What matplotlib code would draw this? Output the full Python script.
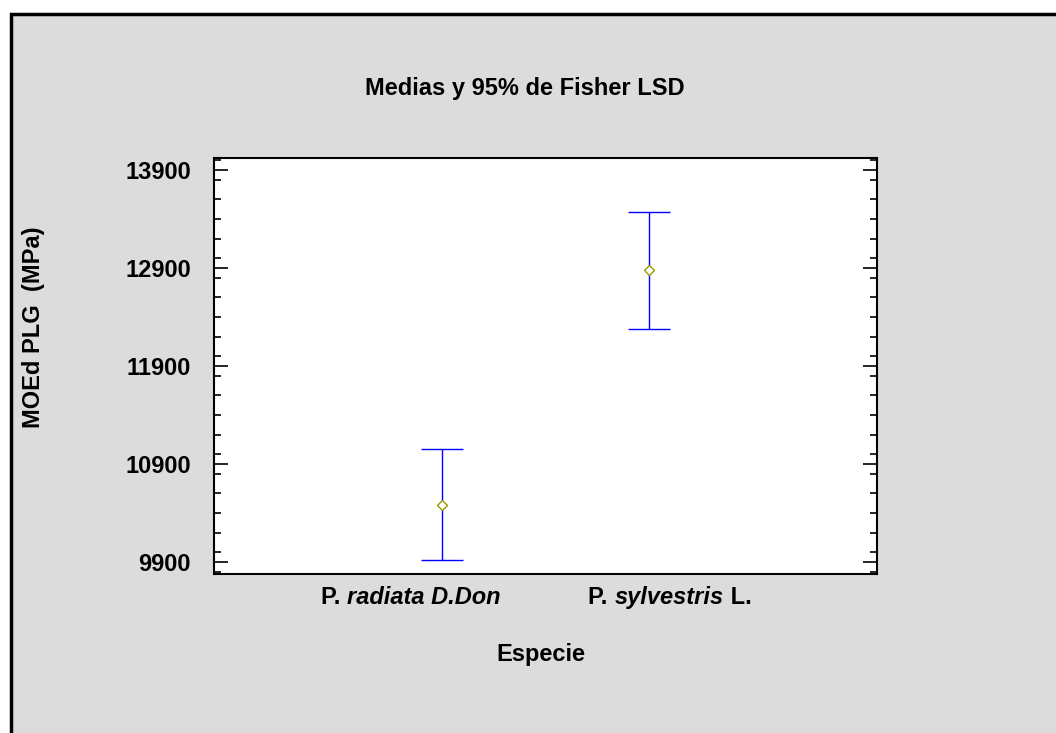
import numpy as np
import matplotlib
matplotlib.use("Agg")
import matplotlib.pyplot as plt
from matplotlib.patches import Rectangle
from matplotlib.ticker import MultipleLocator
import matplotlib.transforms as mtransforms

# ---- data ----
# each category label as (text, style) pieces
categories = [
    [("P. ", "normal"), ("radiata D.Don", "italic")],
    [("P. ", "normal"), ("sylvestris", "italic"), (" L.", "normal")],
]
means = [10485, 12875]
lower = [9918, 12281]
upper = [11052, 13469]
yticks = [9900, 10900, 11900, 12900, 13900]

plt.rcParams['font.family'] = ['Liberation Sans', 'DejaVu Sans']
plt.rcParams['font.weight'] = 'bold'

W, H = 1056, 733
fig = plt.figure(figsize=(W / 100, H / 100), dpi=100)
fig.patch.set_facecolor('white')

# grey panel with black border (background axes)
bg = fig.add_axes([0, 0, 1, 1], zorder=0)
bg.set_axis_off()
bg.set_xlim(0, 1)
bg.set_ylim(0, 1)
bg.add_patch(Rectangle((11 / W, -0.01), 1.05, 1 - 14 / H + 0.01,
                       facecolor='#dcdcdc', edgecolor='black', linewidth=2.5, clip_on=False))

ax = fig.add_axes([214 / W, 1 - 574 / H, (877 - 214) / W, (574 - 158) / H], zorder=2)
ax.set_facecolor('white')

x = np.arange(1, len(means) + 1)
means_a = np.array(means)
err = np.vstack([means_a - np.array(lower), np.array(upper) - means_a])
ax.errorbar(x, means_a, yerr=err, fmt='none', ecolor='#0000ff', elinewidth=1.0,
            capsize=15, capthick=1.0, zorder=2)
ax.plot(x, means_a, linestyle='none', marker='D', markersize=5.6, markerfacecolor='white',
        markeredgecolor='#999900', markeredgewidth=1.0, zorder=3)

ax.set_xlim(-0.1, 3.1)
ax.set_ylim(9777, 14023)
ax.set_yticks(yticks)
ax.set_yticklabels([str(v) for v in yticks], fontsize=17, fontweight='bold')
ax.yaxis.set_minor_locator(MultipleLocator(200))
ax.tick_params(axis='y', which='major', direction='in', length=10, width=1.2, left=True, right=True, pad=16.5)
ax.tick_params(axis='y', which='minor', direction='in', length=5, width=1.2, left=True, right=True)
ax.set_xticks([])

for s in ax.spines.values():
    s.set_linewidth(1.5)
    s.set_color('black')

# category labels made of mixed-style pieces, centred near each category
label_shift = np.array([-0.15, 0.10])
label_pad = 8.6  # points below axes
trans = mtransforms.blended_transform_factory(ax.transData, ax.transAxes)
groups = []
for xc, pieces in zip(x + label_shift, categories):
    texts = []
    prev = None
    for txt, style in pieces:
        if prev is None:
            t = ax.annotate(txt, xy=(xc, 0), xycoords=trans, xytext=(0, -label_pad),
                            textcoords='offset points', ha='left', va='top',
                            fontsize=17, fontweight='bold', fontstyle=style, annotation_clip=False)
        else:
            t = ax.annotate(txt, xy=(1, 0), xycoords=prev, xytext=(0, 0),
                            textcoords='offset points', ha='left', va='bottom',
                            fontsize=17, fontweight='bold', fontstyle=style, annotation_clip=False)
        texts.append(t)
        prev = t
    groups.append(texts)

fig.canvas.draw()
r = fig.canvas.get_renderer()
for texts in groups:
    x0 = texts[0].get_window_extent(r).x0
    x1 = texts[-1].get_window_extent(r).x1
    wpts = (x1 - x0) * 72 / fig.dpi
    texts[0].xyann = (-wpts / 2, -label_pad)

fig.text(525 / W, 1 - 88 / H, "Medias y 95% de Fisher LSD", ha='center', va='center',
         fontsize=17, fontweight='bold')
fig.text(541 / W, 1 - 655 / H, "Especie", ha='center', va='center', fontsize=17, fontweight='bold')
fig.text(34 / W, 1 - 327 / H, "MOEd PLG  (MPa)", ha='center', va='center', rotation=90,
         fontsize=17, fontweight='bold')

fig.savefig("out.png", dpi=100)
